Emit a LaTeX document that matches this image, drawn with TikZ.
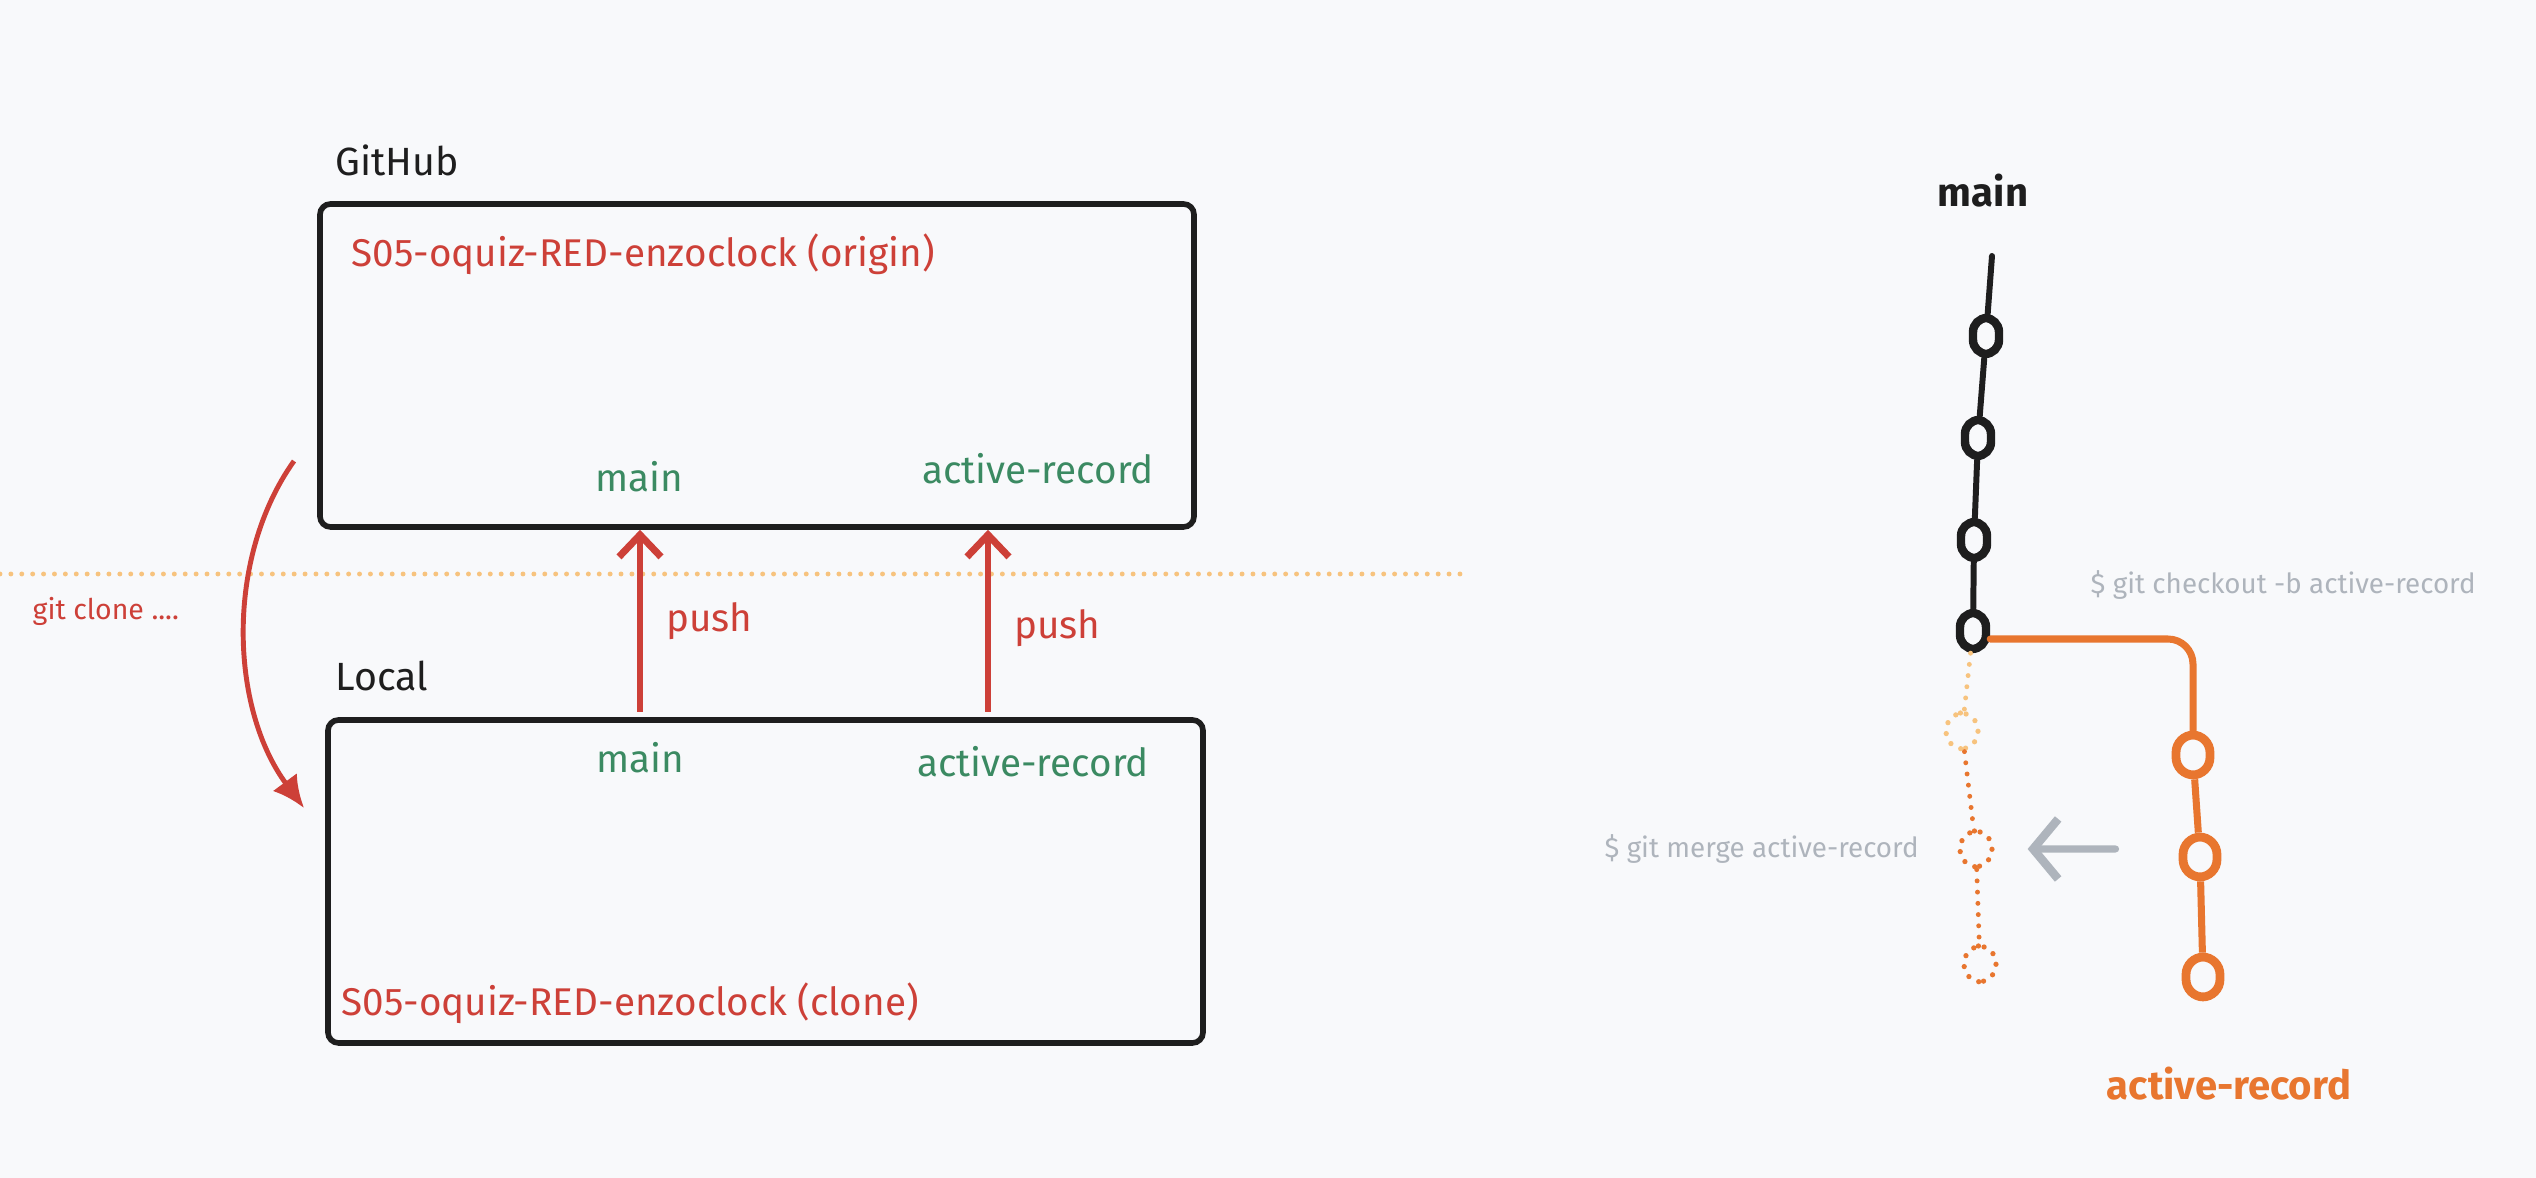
\documentclass[tikz,border=0pt]{standalone}
\usepackage{fontspec}
\setmainfont{Fira Sans}
\usetikzlibrary{arrows.meta,positioning}

\definecolor{paper}{HTML}{F8F9FB}
\definecolor{ink}{HTML}{1E1E1E}
\definecolor{gitred}{HTML}{CD4038}
\definecolor{gitgreen}{HTML}{3B8A62}
\definecolor{gitorange}{HTML}{E8762F}
\definecolor{paleorange}{HTML}{F7C37E}
\definecolor{hint}{HTML}{AEB4BC}

\begin{document}
\begin{tikzpicture}[
    repo/.style={draw=ink,line width=1.6pt,rounded corners=3pt,inner sep=0pt},
    place/.style={text=ink,font=\fontsize{11.2}{13}\selectfont,anchor=west,inner sep=0pt},
    reponame/.style={text=gitred,font=\fontsize{11}{13}\selectfont,anchor=west,inner sep=0pt},
    branchname/.style={text=gitgreen,font=\fontsize{11}{13}\selectfont},
    pusharrow/.style={draw=gitred,line width=1.5pt,-{Straight Barb[length=0.22cm,width=0.42cm,line width=2pt]}},
    commit/.style={rectangle,rounded corners=4pt,draw=ink,line width=2.4pt,minimum width=0.26cm,minimum height=0.36cm,inner sep=0pt},
    bcommit/.style={rectangle,rounded corners=5pt,draw=gitorange,line width=2.5pt,minimum width=0.34cm,minimum height=0.40cm,inner sep=0pt},
    ghost/.style={rectangle,rounded corners=5pt,draw=gitorange,line width=1.5pt,dash pattern=on 0pt off 3.2pt,line cap=round,minimum width=0.32cm,minimum height=0.36cm,inner sep=0pt},
    hinttext/.style={text=hint,font=\fontsize{7.9}{10}\selectfont,inner sep=0pt},
    handlabel/.style={font=\fontsize{11.4}{13}\selectfont\bfseries}
  ]

  \fill[paper] (0,0) rectangle (25.36,11.78);
  \useasboundingbox (0,0) rectangle (25.36,11.78);

  % repositories
  \node[repo,minimum width=8.74cm,minimum height=3.23cm] (github) at (7.57,8.125) {};
  \node[repo,minimum width=8.75cm,minimum height=3.23cm] (local) at (7.655,2.965) {};

  \node[place] (githublbl) at (3.35,10.18) {GitHub};
  \node[place] (locallbl) at (3.35,5.02) {Local};
  \node[reponame] (origin) at (3.51,9.24) {S05-oquiz-RED-enzoclock (origin)};
  \node[reponame] (clone) at (3.41,1.75) {S05-oquiz-RED-enzoclock (clone)};

  \node[branchname] (ghmain) at (6.39,7.01) {main};
  \node[branchname] (ghactive) at (10.38,7.09) {active-record};
  \node[branchname] (lcmain) at (6.40,4.20) {main};
  \node[branchname] (lcactive) at (10.33,4.16) {active-record};

  % remote / local border
  \draw[paleorange,line width=1.4pt,line cap=round,dash pattern=on 0pt off 3.1pt] (0,6.04) -- (14.64,6.04);

  \coordinate (pushmain) at (6.40,4.66);
  \coordinate (pushactive) at (9.88,4.66);
  \draw[pusharrow] (pushmain) -- (pushmain |- github.south) node[midway,right=0.12cm,text=gitred,font=\fontsize{11}{13}\selectfont] {push};
  \draw[pusharrow] (pushactive) -- (pushactive |- github.south) node[midway,right=0.12cm,yshift=-0.07cm,text=gitred,font=\fontsize{11}{13}\selectfont] {push};

  \coordinate (clonefrom) at (2.94,7.17);
  \coordinate (cloneto) at (3.04,3.70);
  \draw[gitred,line width=1.4pt,-{Latex[length=0.32cm,width=0.3cm]}] (clonefrom) .. controls (2.25,6.2) and (2.30,4.7) .. (cloneto);
  \node[text=gitred,font=\fontsize{8.1}{10}\selectfont,anchor=west,inner sep=0pt] (clonecmd) at (0.32,5.67) {git clone ....};

  % commit graph
  \node[handlabel,text=ink] (mainlbl) at (19.83,9.87) {main};
  \coordinate (maintip) at (19.92,9.22);
  \node[commit] (c1) at (19.86,8.42) {};
  \node[commit] (c2) at (19.78,7.40) {};
  \node[commit] (c3) at (19.74,6.38) {};
  \node[commit] (c4) at (19.73,5.47) {};
  \draw[ink,line width=1.7pt,line cap=round] (maintip) -- (c1) -- (c2) -- (c3) -- (c4);

  \node[bcommit] (o1) at (21.93,4.23) {};
  \node[bcommit] (o2) at (22.00,3.21) {};
  \node[bcommit] (o3) at (22.03,2.01) {};
  \draw[gitorange,line width=2pt,line cap=round,rounded corners=0.25cm] (c4.-25) -| (o1);
  \draw[gitorange,line width=2pt] (o1) -- (o2) -- (o3);

  \node[ghost,draw=paleorange] (g1) at (19.62,4.47) {};
  \node[ghost] (g2) at (19.76,3.29) {};
  \node[ghost] (g3) at (19.80,2.14) {};
  \draw[paleorange,line width=1.4pt,line cap=round,dash pattern=on 0pt off 3.2pt] (c4) -- (g1);
  \draw[gitorange,line width=1.4pt,line cap=round,dash pattern=on 0pt off 3.2pt] (g1) -- (g2) -- (g3);

  \draw[hint,line width=2pt,line cap=round,-{Straight Barb[length=0.25cm,width=0.6cm,line width=2.4pt]}] ([xshift=-0.63cm,yshift=0.08cm]o2.west) -- ([xshift=0.33cm]g2.east);

  \node[hinttext,anchor=west] (checkoutcmd) at (20.90,5.93) {\$ git checkout -b active-record};
  \node[hinttext,left=0.38cm of g2] (mergecmd) {\$ git merge active-record};
  \node[handlabel,text=gitorange] (branchlbl) at (22.29,0.94) {active-record};
\end{tikzpicture}
\end{document}
